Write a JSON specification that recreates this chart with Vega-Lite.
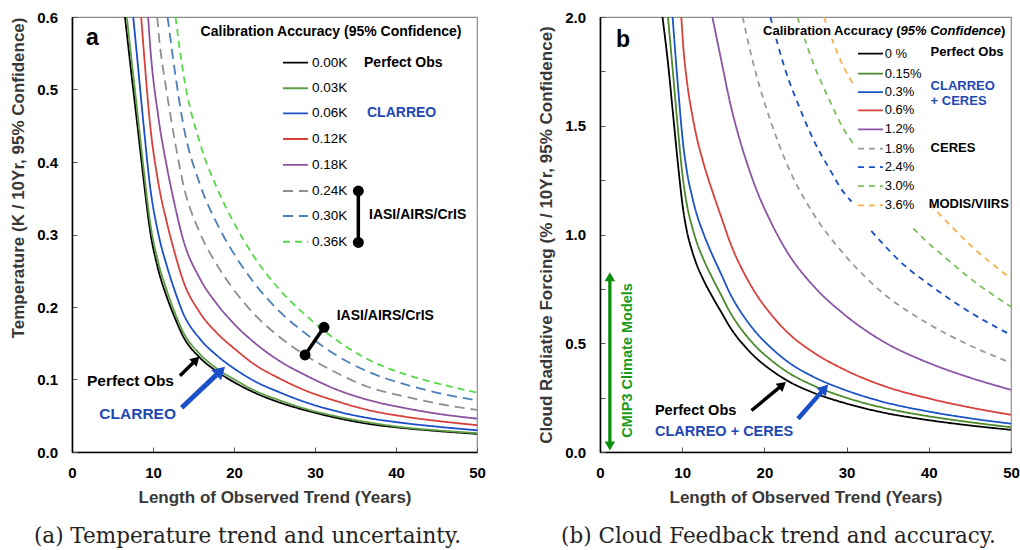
{
"$schema": "https://vega.github.io/schema/vega-lite/v6.json",
"background": "white",
"padding": {"left": 9, "top": 9, "right": 0, "bottom": 0},
"spacing": 51,
"config": {
  "font": "Liberation Sans",
  "view": {"stroke": "#8c8c8c", "strokeWidth": 1.2},
  "axis": {"labelFont": "Liberation Sans", "labelFontSize": 15, "labelFontWeight": "bold", "labelColor": "#000", "titleFont": "Liberation Sans", "titleFontSize": 17, "titleFontWeight": "bold", "titleColor": "#383838", "domainColor": "#000", "domainWidth": 1.6, "tickColor": "#555", "tickSize": -5, "tickWidth": 1, "labelPadding": 18, "grid": false, "titlePadding": 9, "labelFlush": false, "labelOverlap": false},
  "text": {"font": "Liberation Sans"}
},
"resolve": {"scale": {"x": "independent", "y": "independent", "color": "independent", "strokeDash": "independent", "shape": "independent"}},
"datasets": {
  "curvesA": [
    {"s":"0.00K","x":6.54,"y":0.6},{"s":"0.00K","x":7.3,"y":0.525},{"s":"0.00K","x":8.07,"y":0.451},{"s":"0.00K","x":8.85,"y":0.375},{"s":"0.00K","x":9.63,"y":0.306},{"s":"0.00K","x":10.66,"y":0.251},{"s":"0.00K","x":11.7,"y":0.214},{"s":"0.00K","x":12.7,"y":0.185},{"s":"0.00K","x":13.7,"y":0.16},{"s":"0.00K","x":15.8,"y":0.13},{"s":"0.00K","x":17.9,"y":0.111},{"s":"0.00K","x":19.9,"y":0.097},{"s":"0.00K","x":22.5,"y":0.082},{"s":"0.00K","x":25.7,"y":0.068},{"s":"0.00K","x":29,"y":0.057},{"s":"0.00K","x":32.7,"y":0.047},{"s":"0.00K","x":36.5,"y":0.039},{"s":"0.00K","x":40.9,"y":0.033},{"s":"0.00K","x":45,"y":0.029},{"s":"0.00K","x":50,"y":0.025},
    {"s":"0.03K","x":6.77,"y":0.6},{"s":"0.03K","x":7.3,"y":0.546},{"s":"0.03K","x":8.07,"y":0.469},{"s":"0.03K","x":8.85,"y":0.39},{"s":"0.03K","x":9.63,"y":0.318},{"s":"0.03K","x":10.66,"y":0.261},{"s":"0.03K","x":11.7,"y":0.223},{"s":"0.03K","x":12.7,"y":0.192},{"s":"0.03K","x":13.7,"y":0.166},{"s":"0.03K","x":15.8,"y":0.135},{"s":"0.03K","x":17.9,"y":0.115},{"s":"0.03K","x":19.9,"y":0.101},{"s":"0.03K","x":22.5,"y":0.085},{"s":"0.03K","x":25.7,"y":0.071},{"s":"0.03K","x":29,"y":0.059},{"s":"0.03K","x":32.7,"y":0.049},{"s":"0.03K","x":36.5,"y":0.041},{"s":"0.03K","x":40.9,"y":0.034},{"s":"0.03K","x":45,"y":0.03},{"s":"0.03K","x":50,"y":0.026},
    {"s":"0.06K","x":7.56,"y":0.6},{"s":"0.06K","x":8.07,"y":0.541},{"s":"0.06K","x":8.85,"y":0.45},{"s":"0.06K","x":9.63,"y":0.367},{"s":"0.06K","x":10.66,"y":0.301},{"s":"0.06K","x":11.7,"y":0.257},{"s":"0.06K","x":12.7,"y":0.222},{"s":"0.06K","x":13.7,"y":0.192},{"s":"0.06K","x":15.8,"y":0.156},{"s":"0.06K","x":17.9,"y":0.133},{"s":"0.06K","x":19.9,"y":0.116},{"s":"0.06K","x":22.5,"y":0.098},{"s":"0.06K","x":25.7,"y":0.082},{"s":"0.06K","x":29,"y":0.068},{"s":"0.06K","x":32.7,"y":0.056},{"s":"0.06K","x":36.5,"y":0.047},{"s":"0.06K","x":40.9,"y":0.04},{"s":"0.06K","x":45,"y":0.035},{"s":"0.06K","x":50,"y":0.03},
    {"s":"0.12K","x":8.54,"y":0.6},{"s":"0.12K","x":8.85,"y":0.555},{"s":"0.12K","x":9.63,"y":0.453},{"s":"0.12K","x":10.66,"y":0.371},{"s":"0.12K","x":11.7,"y":0.317},{"s":"0.12K","x":12.7,"y":0.274},{"s":"0.12K","x":13.7,"y":0.237},{"s":"0.12K","x":15.8,"y":0.192},{"s":"0.12K","x":17.9,"y":0.164},{"s":"0.12K","x":19.9,"y":0.144},{"s":"0.12K","x":22.5,"y":0.121},{"s":"0.12K","x":25.7,"y":0.101},{"s":"0.12K","x":29,"y":0.084},{"s":"0.12K","x":32.7,"y":0.07},{"s":"0.12K","x":36.5,"y":0.058},{"s":"0.12K","x":40.9,"y":0.049},{"s":"0.12K","x":45,"y":0.043},{"s":"0.12K","x":50,"y":0.037},
    {"s":"0.18K","x":9.4,"y":0.6},{"s":"0.18K","x":9.63,"y":0.563},{"s":"0.18K","x":10.66,"y":0.462},{"s":"0.18K","x":11.7,"y":0.394},{"s":"0.18K","x":12.7,"y":0.34},{"s":"0.18K","x":13.7,"y":0.294},{"s":"0.18K","x":15.8,"y":0.239},{"s":"0.18K","x":17.9,"y":0.204},{"s":"0.18K","x":19.9,"y":0.178},{"s":"0.18K","x":22.5,"y":0.151},{"s":"0.18K","x":25.7,"y":0.125},{"s":"0.18K","x":29,"y":0.105},{"s":"0.18K","x":32.7,"y":0.086},{"s":"0.18K","x":36.5,"y":0.072},{"s":"0.18K","x":40.9,"y":0.061},{"s":"0.18K","x":45,"y":0.053},{"s":"0.18K","x":50,"y":0.046},
    {"s":"0.24K","x":10.52,"y":0.6},{"s":"0.24K","x":10.66,"y":0.582},{"s":"0.24K","x":11.7,"y":0.496},{"s":"0.24K","x":12.7,"y":0.429},{"s":"0.24K","x":13.7,"y":0.371},{"s":"0.24K","x":15.8,"y":0.302},{"s":"0.24K","x":17.9,"y":0.258},{"s":"0.24K","x":19.9,"y":0.225},{"s":"0.24K","x":22.5,"y":0.19},{"s":"0.24K","x":25.7,"y":0.158},{"s":"0.24K","x":29,"y":0.132},{"s":"0.24K","x":32.7,"y":0.109},{"s":"0.24K","x":36.5,"y":0.09},{"s":"0.24K","x":40.9,"y":0.077},{"s":"0.24K","x":45,"y":0.067},{"s":"0.24K","x":50,"y":0.058},
    {"s":"0.30K","x":11.8,"y":0.6},{"s":"0.30K","x":12.7,"y":0.525},{"s":"0.30K","x":13.7,"y":0.454},{"s":"0.30K","x":15.8,"y":0.369},{"s":"0.30K","x":17.9,"y":0.315},{"s":"0.30K","x":19.9,"y":0.275},{"s":"0.30K","x":22.5,"y":0.233},{"s":"0.30K","x":25.7,"y":0.193},{"s":"0.30K","x":29,"y":0.162},{"s":"0.30K","x":32.7,"y":0.133},{"s":"0.30K","x":36.5,"y":0.111},{"s":"0.30K","x":40.9,"y":0.094},{"s":"0.30K","x":45,"y":0.082},{"s":"0.30K","x":50,"y":0.071},
    {"s":"0.36K","x":12.78,"y":0.6},{"s":"0.36K","x":13.7,"y":0.525},{"s":"0.36K","x":15.8,"y":0.426},{"s":"0.36K","x":17.9,"y":0.364},{"s":"0.36K","x":19.9,"y":0.318},{"s":"0.36K","x":22.5,"y":0.269},{"s":"0.36K","x":25.7,"y":0.223},{"s":"0.36K","x":29,"y":0.187},{"s":"0.36K","x":32.7,"y":0.154},{"s":"0.36K","x":36.5,"y":0.128},{"s":"0.36K","x":40.9,"y":0.108},{"s":"0.36K","x":45,"y":0.095},{"s":"0.36K","x":50,"y":0.082}
  ],
  "legA": [
    {"s":"0.00K","x":26.05,"x2":29.14,"y":0.537},{"s":"0.03K","x":26.05,"x2":29.14,"y":0.5017},{"s":"0.06K","x":26.05,"x2":29.14,"y":0.4671},{"s":"0.12K","x":26.05,"x2":29.14,"y":0.4317},{"s":"0.18K","x":26.05,"x2":29.14,"y":0.3959},{"s":"0.24K","x":26.05,"x2":29.14,"y":0.36},{"s":"0.30K","x":26.05,"x2":29.14,"y":0.3255},{"s":"0.36K","x":26.05,"x2":29.14,"y":0.29}
  ],
  "legLabA": [
    {"s":"0.00K","x":29.63,"y":0.537},{"s":"0.03K","x":29.63,"y":0.5017},{"s":"0.06K","x":29.63,"y":0.4671},{"s":"0.12K","x":29.63,"y":0.4317},{"s":"0.18K","x":29.63,"y":0.3959},{"s":"0.24K","x":29.63,"y":0.36},{"s":"0.30K","x":29.63,"y":0.3255},{"s":"0.36K","x":29.63,"y":0.29}
  ],
  "curvesB": [
    {"s":"0 %","g":1,"x":7.6,"y":2.0},{"s":"0 %","g":1,"x":8.3,"y":1.778},{"s":"0 %","g":1,"x":8.9,"y":1.548},{"s":"0 %","g":1,"x":9.5,"y":1.318},{"s":"0 %","g":1,"x":10.1,"y":1.119},{"s":"0 %","g":1,"x":10.6,"y":1.01},{"s":"0 %","g":1,"x":11.2,"y":0.925},{"s":"0 %","g":1,"x":11.7,"y":0.868},{"s":"0 %","g":1,"x":12.6,"y":0.79},{"s":"0 %","g":1,"x":13.8,"y":0.705},{"s":"0 %","g":1,"x":14.8,"y":0.64},{"s":"0 %","g":1,"x":15.8,"y":0.575},{"s":"0 %","g":1,"x":16.8,"y":0.522},{"s":"0 %","g":1,"x":17.8,"y":0.478},{"s":"0 %","g":1,"x":19.2,"y":0.425},{"s":"0 %","g":1,"x":20.7,"y":0.38},{"s":"0 %","g":1,"x":22.7,"y":0.33},{"s":"0 %","g":1,"x":26,"y":0.272},{"s":"0 %","g":1,"x":29.6,"y":0.227},{"s":"0 %","g":1,"x":34.5,"y":0.181},{"s":"0 %","g":1,"x":39.7,"y":0.148},{"s":"0 %","g":1,"x":45,"y":0.122},{"s":"0 %","g":1,"x":50,"y":0.102},
    {"s":"0.15%","g":1,"x":8.27,"y":2.0},{"s":"0.15%","g":1,"x":8.9,"y":1.734},{"s":"0.15%","g":1,"x":9.5,"y":1.476},{"s":"0.15%","g":1,"x":10.1,"y":1.253},{"s":"0.15%","g":1,"x":10.6,"y":1.131},{"s":"0.15%","g":1,"x":11.2,"y":1.036},{"s":"0.15%","g":1,"x":11.7,"y":0.972},{"s":"0.15%","g":1,"x":12.6,"y":0.885},{"s":"0.15%","g":1,"x":13.8,"y":0.79},{"s":"0.15%","g":1,"x":14.8,"y":0.717},{"s":"0.15%","g":1,"x":15.8,"y":0.644},{"s":"0.15%","g":1,"x":16.8,"y":0.585},{"s":"0.15%","g":1,"x":17.8,"y":0.535},{"s":"0.15%","g":1,"x":19.2,"y":0.476},{"s":"0.15%","g":1,"x":20.7,"y":0.426},{"s":"0.15%","g":1,"x":22.7,"y":0.37},{"s":"0.15%","g":1,"x":26,"y":0.305},{"s":"0.15%","g":1,"x":29.6,"y":0.254},{"s":"0.15%","g":1,"x":34.5,"y":0.203},{"s":"0.15%","g":1,"x":39.7,"y":0.166},{"s":"0.15%","g":1,"x":45,"y":0.137},{"s":"0.15%","g":1,"x":50,"y":0.114},
    {"s":"0.3%","g":1,"x":8.83,"y":2.0},{"s":"0.3%","g":1,"x":9.5,"y":1.674},{"s":"0.3%","g":1,"x":10.1,"y":1.421},{"s":"0.3%","g":1,"x":10.6,"y":1.283},{"s":"0.3%","g":1,"x":11.2,"y":1.175},{"s":"0.3%","g":1,"x":11.7,"y":1.102},{"s":"0.3%","g":1,"x":12.6,"y":1.003},{"s":"0.3%","g":1,"x":13.8,"y":0.895},{"s":"0.3%","g":1,"x":14.8,"y":0.813},{"s":"0.3%","g":1,"x":15.8,"y":0.73},{"s":"0.3%","g":1,"x":16.8,"y":0.663},{"s":"0.3%","g":1,"x":17.8,"y":0.607},{"s":"0.3%","g":1,"x":19.2,"y":0.54},{"s":"0.3%","g":1,"x":20.7,"y":0.483},{"s":"0.3%","g":1,"x":22.7,"y":0.419},{"s":"0.3%","g":1,"x":26,"y":0.345},{"s":"0.3%","g":1,"x":29.6,"y":0.288},{"s":"0.3%","g":1,"x":34.5,"y":0.23},{"s":"0.3%","g":1,"x":39.7,"y":0.188},{"s":"0.3%","g":1,"x":45,"y":0.155},{"s":"0.3%","g":1,"x":50,"y":0.13},
    {"s":"0.6%","g":1,"x":9.89,"y":2.0},{"s":"0.6%","g":1,"x":10.1,"y":1.88},{"s":"0.6%","g":1,"x":10.6,"y":1.697},{"s":"0.6%","g":1,"x":11.2,"y":1.554},{"s":"0.6%","g":1,"x":11.7,"y":1.458},{"s":"0.6%","g":1,"x":12.6,"y":1.327},{"s":"0.6%","g":1,"x":13.8,"y":1.184},{"s":"0.6%","g":1,"x":14.8,"y":1.075},{"s":"0.6%","g":1,"x":15.8,"y":0.966},{"s":"0.6%","g":1,"x":16.8,"y":0.877},{"s":"0.6%","g":1,"x":17.8,"y":0.803},{"s":"0.6%","g":1,"x":19.2,"y":0.714},{"s":"0.6%","g":1,"x":20.7,"y":0.638},{"s":"0.6%","g":1,"x":22.7,"y":0.554},{"s":"0.6%","g":1,"x":26,"y":0.457},{"s":"0.6%","g":1,"x":29.6,"y":0.381},{"s":"0.6%","g":1,"x":34.5,"y":0.304},{"s":"0.6%","g":1,"x":39.7,"y":0.249},{"s":"0.6%","g":1,"x":45,"y":0.205},{"s":"0.6%","g":1,"x":50,"y":0.171},
    {"s":"1.2%","g":1,"x":13.67,"y":2.0},{"s":"1.2%","g":1,"x":14.8,"y":1.792},{"s":"1.2%","g":1,"x":15.8,"y":1.61},{"s":"1.2%","g":1,"x":16.8,"y":1.462},{"s":"1.2%","g":1,"x":17.8,"y":1.338},{"s":"1.2%","g":1,"x":19.2,"y":1.19},{"s":"1.2%","g":1,"x":20.7,"y":1.064},{"s":"1.2%","g":1,"x":22.7,"y":0.924},{"s":"1.2%","g":1,"x":26,"y":0.762},{"s":"1.2%","g":1,"x":29.6,"y":0.636},{"s":"1.2%","g":1,"x":34.5,"y":0.507},{"s":"1.2%","g":1,"x":39.7,"y":0.414},{"s":"1.2%","g":1,"x":45,"y":0.342},{"s":"1.2%","g":1,"x":50,"y":0.286},
    {"s":"1.8%","g":1,"x":17.36,"y":2.0},{"s":"1.8%","g":1,"x":17.8,"y":1.922},{"s":"1.8%","g":1,"x":19.2,"y":1.709},{"s":"1.8%","g":1,"x":20.7,"y":1.528},{"s":"1.8%","g":1,"x":22.7,"y":1.327},{"s":"1.8%","g":1,"x":26,"y":1.093},{"s":"1.8%","g":1,"x":29.6,"y":0.913},{"s":"1.8%","g":1,"x":34.5,"y":0.728},{"s":"1.8%","g":1,"x":39.7,"y":0.595},{"s":"1.8%","g":1,"x":45,"y":0.49},{"s":"1.8%","g":1,"x":50,"y":0.41},
    {"s":"2.4%","g":1,"x":20.72,"y":2.0},{"s":"2.4%","g":1,"x":22.7,"y":1.739},{"s":"2.4%","g":1,"x":24.3,"y":1.581},{"s":"2.4%","g":1,"x":26,"y":1.433},{"s":"2.4%","g":1,"x":28,"y":1.296},{"s":"2.4%","g":1,"x":29.6,"y":1.196},{"s":"2.4%","g":1,"x":30.6,"y":1.151},
    {"s":"2.4%","g":2,"x":33.0,"y":1.017},{"s":"2.4%","g":2,"x":34.5,"y":0.954},{"s":"2.4%","g":2,"x":37,"y":0.859},{"s":"2.4%","g":2,"x":39.7,"y":0.78},{"s":"2.4%","g":2,"x":45,"y":0.643},{"s":"2.4%","g":2,"x":50,"y":0.538},
    {"s":"3.0%","g":1,"x":24.02,"y":2.0},{"s":"3.0%","g":1,"x":26,"y":1.782},{"s":"3.0%","g":1,"x":28,"y":1.611},{"s":"3.0%","g":1,"x":29.6,"y":1.487},{"s":"3.0%","g":1,"x":31.0,"y":1.408},
    {"s":"3.0%","g":2,"x":38.1,"y":1.028},{"s":"3.0%","g":2,"x":39.7,"y":0.969},{"s":"3.0%","g":2,"x":42.5,"y":0.878},{"s":"3.0%","g":2,"x":45,"y":0.799},{"s":"3.0%","g":2,"x":50,"y":0.668},
    {"s":"3.6%","g":1,"x":27.23,"y":2.0},{"s":"3.6%","g":1,"x":28,"y":1.921},{"s":"3.6%","g":1,"x":29.6,"y":1.773},{"s":"3.6%","g":1,"x":31.0,"y":1.679},
    {"s":"3.6%","g":2,"x":40.1,"y":1.14},{"s":"3.6%","g":2,"x":42.5,"y":1.047},{"s":"3.6%","g":2,"x":45,"y":0.953},{"s":"3.6%","g":2,"x":50,"y":0.797}
  ],
  "legB": [
    {"s":"0 %","x":31.38,"x2":34.42,"y":1.8317},{"s":"0.15%","x":31.38,"x2":34.42,"y":1.7396},{"s":"0.3%","x":31.38,"x2":34.42,"y":1.655},{"s":"0.6%","x":31.38,"x2":34.42,"y":1.5708},{"s":"1.2%","x":31.38,"x2":34.42,"y":1.4834},{"s":"1.8%","x":31.38,"x2":34.42,"y":1.3947},{"s":"2.4%","x":31.38,"x2":34.42,"y":1.31},{"s":"3.0%","x":31.38,"x2":34.42,"y":1.2226},{"s":"3.6%","x":31.38,"x2":34.42,"y":1.1338}
  ],
  "legLabB": [
    {"s":"0 %","x":34.63,"y":1.8317},{"s":"0.15%","x":34.63,"y":1.7396},{"s":"0.3%","x":34.63,"y":1.655},{"s":"0.6%","x":34.63,"y":1.5708},{"s":"1.2%","x":34.63,"y":1.4834},{"s":"1.8%","x":34.63,"y":1.3947},{"s":"2.4%","x":34.63,"y":1.31},{"s":"3.0%","x":34.63,"y":1.2226},{"s":"3.6%","x":34.63,"y":1.1338}
  ]
},
"hconcat": [
{
  "width": 405, "height": 435,
  "title": {"text": "(a) Temperature trend and uncertainty.", "orient": "bottom", "anchor": "middle", "offset": 21, "dx": -27, "font": "DejaVu Serif", "fontSize": 21.5, "fontWeight": "normal", "color": "#222"},
  "encoding": {
    "x": {"field": "x", "type": "quantitative", "scale": {"domain": [0, 50], "nice": false, "zero": false}, "axis": {"title": "Length of Observed Trend (Years)", "values": [0, 10, 20, 30, 40, 50]}},
    "y": {"field": "y", "type": "quantitative", "scale": {"domain": [0, 0.6], "nice": false}, "axis": {"title": "Temperature (K / 10Yr, 95% Confidence)", "values": [0, 0.1, 0.2, 0.3, 0.4, 0.5, 0.6], "format": ".1f", "titleAnchor": "end", "labelPadding": 19.5}}
  },
  "layer": [
    {"data": {"name": "curvesA"}, "mark": {"type": "line", "strokeWidth": 1.8, "interpolate": "monotone", "clip": true},
     "encoding": {
       "color": {"field": "s", "type": "nominal", "scale": {"domain": ["0.00K","0.03K","0.06K","0.12K","0.18K","0.24K","0.30K","0.36K"], "range": ["#000000","#5e9f45","#1a4fc8","#d8403c","#8b52a1","#8f8f8f","#4b7fb8","#55d946"]}, "legend": null},
       "strokeDash": {"field": "s", "type": "nominal", "scale": {"domain": ["0.00K","0.03K","0.06K","0.12K","0.18K","0.24K","0.30K","0.36K"], "range": [[1,0],[1,0],[1,0],[1,0],[1,0],[10,6],[10,6],[7,5]]}, "legend": null}
     }},
    {"data": {"name": "legA"}, "mark": {"type": "rule", "strokeWidth": 1.8},
     "encoding": {
       "x2": {"field": "x2"},
       "color": {"field": "s", "type": "nominal", "legend": null},
       "strokeDash": {"field": "s", "type": "nominal", "legend": null}
     }},
    {"data": {"name": "legLabA"}, "mark": {"type": "text", "align": "left", "baseline": "middle", "fontSize": 13.5, "color": "#000"},
     "encoding": {"text": {"field": "s"}}},
    {"data": {"values": [{"x": 31.98, "y": 0.579, "label": "Calibration Accuracy (95% Confidence)"}]}, "mark": {"type": "text", "align": "center", "baseline": "middle", "fontSize": 14, "fontWeight": "bold", "color": "#000"},
     "encoding": {"text": {"field": "label"}}},
    {"data": {"values": [{"x": 36.05, "y": 0.5366, "label": "Perfect Obs"}, {"x": 36.67, "y": 0.327, "label": "IASI/AIRS/CrIS"}, {"x": 32.68, "y": 0.188, "label": "IASI/AIRS/CrIS"}]}, "mark": {"type": "text", "align": "left", "baseline": "middle", "fontSize": 14, "fontWeight": "bold", "color": "#000"},
     "encoding": {"text": {"field": "label"}}},
    {"data": {"values": [{"x": 36.42, "y": 0.467, "label": "CLARREO"}]}, "mark": {"type": "text", "align": "left", "baseline": "middle", "fontSize": 14, "fontWeight": "bold", "color": "#1e48b4"},
     "encoding": {"text": {"field": "label"}}},
    {"data": {"values": [{"x": 1.73, "y": 0.571, "label": "a"}]}, "mark": {"type": "text", "align": "left", "baseline": "middle", "fontSize": 23, "fontWeight": "bold", "color": "#000"},
     "encoding": {"text": {"field": "label"}}},
    {"data": {"values": [{"x": 12.59, "y": 0.0983, "label": "Perfect Obs"}]}, "mark": {"type": "text", "align": "right", "baseline": "middle", "fontSize": 15.5, "fontWeight": "bold", "color": "#000"},
     "encoding": {"text": {"field": "label"}}},
    {"data": {"values": [{"x": 12.84, "y": 0.0524, "label": "CLARREO"}]}, "mark": {"type": "text", "align": "right", "baseline": "middle", "fontSize": 15.5, "fontWeight": "bold", "color": "#1e48b4"},
     "encoding": {"text": {"field": "label"}}},
    {"data": {"values": [{"x": 35.35, "y": 0.36, "x2": 35.35, "y2": 0.289}, {"x": 28.77, "y": 0.1338, "x2": 31.11, "y2": 0.172}]}, "mark": {"type": "rule", "strokeWidth": 3.5, "color": "#000"},
     "encoding": {"x2": {"field": "x2"}, "y2": {"field": "y2"}}},
    {"data": {"values": [{"x": 35.35, "y": 0.36}, {"x": 35.35, "y": 0.289}, {"x": 28.77, "y": 0.1338}, {"x": 31.11, "y": 0.172}]}, "mark": {"type": "point", "shape": "circle", "filled": true, "size": 120, "opacity": 1, "color": "#000"}},
    {"data": {"values": [{"x": 13.33, "y": 0.1052, "x2": 15.33, "y2": 0.1273}]}, "mark": {"type": "rule", "strokeWidth": 3.5, "color": "#000"},
     "encoding": {"x2": {"field": "x2"}, "y2": {"field": "y2"}}},
    {"data": {"values": [{"x": 15.33, "y": 0.1273}]}, "mark": {"type": "point", "shape": "triangle-up", "filled": true, "size": 110, "opacity": 1, "angle": 45.4, "color": "#000"}},
    {"data": {"values": [{"x": 13.54, "y": 0.0611, "x2": 18.35, "y2": 0.1119}]}, "mark": {"type": "rule", "strokeWidth": 5, "color": "#1a4fc8"},
     "encoding": {"x2": {"field": "x2"}, "y2": {"field": "y2"}}},
    {"data": {"values": [{"x": 18.35, "y": 0.1119}]}, "mark": {"type": "point", "shape": "triangle-up", "filled": true, "size": 200, "opacity": 1, "angle": 46.6, "color": "#1a4fc8"}}
  ]
},
{
  "width": 411, "height": 435,
  "title": {"text": "(b) Cloud Feedback trend and accuracy.", "orient": "bottom", "anchor": "middle", "offset": 21, "dx": -27, "font": "DejaVu Serif", "fontSize": 21.5, "fontWeight": "normal", "color": "#222"},
  "encoding": {
    "x": {"field": "x", "type": "quantitative", "scale": {"domain": [0, 50], "nice": false, "zero": false}, "axis": {"title": "Length of Observed Trend (Years)", "values": [0, 10, 20, 30, 40, 50]}},
    "y": {"field": "y", "type": "quantitative", "scale": {"domain": [0, 2], "nice": false}, "axis": {"title": "Cloud Radiative Forcing (% / 10Yr, 95% Confidence)", "values": [0, 0.25, 0.5, 0.75, 1, 1.25, 1.5, 1.75, 2], "labelExpr": "datum.value % 0.5 == 0 ? format(datum.value, '.1f') : ''", "labelPadding": 19.5}}
  },
  "layer": [
    {"data": {"name": "curvesB"}, "mark": {"type": "line", "strokeWidth": 1.8, "interpolate": "monotone", "clip": true},
     "encoding": {
       "detail": {"field": "g", "type": "nominal"},
       "color": {"field": "s", "type": "nominal", "scale": {"domain": ["0 %","0.15%","0.3%","0.6%","1.2%","1.8%","2.4%","3.0%","3.6%"], "range": ["#000000","#4d8a2a","#1a55c8","#d9403a","#8b55a6","#9a9a9a","#1a4fc0","#7cbf5c","#f5b24c"]}, "legend": null},
       "strokeDash": {"field": "s", "type": "nominal", "scale": {"domain": ["0 %","0.15%","0.3%","0.6%","1.2%","1.8%","2.4%","3.0%","3.6%"], "range": [[1,0],[1,0],[1,0],[1,0],[1,0],[6,5],[6,5],[6,5],[6,5]]}, "legend": null}
     }},
    {"data": {"values": [{"x": 19.4, "x2": 49.6, "y": 1.9, "y2": 1.97}]}, "mark": {"type": "rect", "color": "#ffffff", "opacity": 1},
     "encoding": {"x2": {"field": "x2"}, "y2": {"field": "y2"}}},
    {"data": {"name": "legB"}, "mark": {"type": "rule", "strokeWidth": 1.8},
     "encoding": {
       "x2": {"field": "x2"},
       "color": {"field": "s", "type": "nominal", "legend": null},
       "strokeDash": {"field": "s", "type": "nominal", "legend": null}
     }},
    {"data": {"name": "legLabB"}, "mark": {"type": "text", "align": "left", "baseline": "middle", "fontSize": 13, "color": "#000"},
     "encoding": {"text": {"field": "s"}}},
    {"data": {"values": [{"x": 36.57, "y": 1.934, "label": "Calibration Accuracy ("}]}, "mark": {"type": "text", "align": "right", "baseline": "middle", "fontSize": 13, "fontWeight": "bold", "color": "#000"},
     "encoding": {"text": {"field": "label"}}},
    {"data": {"values": [{"x": 36.57, "y": 1.934, "label": "95% Confidence"}]}, "mark": {"type": "text", "align": "left", "baseline": "middle", "fontSize": 13, "fontWeight": "bold", "fontStyle": "italic", "color": "#000"},
     "encoding": {"text": {"field": "label"}}},
    {"data": {"values": [{"x": 48.77, "y": 1.934, "label": ")"}]}, "mark": {"type": "text", "align": "left", "baseline": "middle", "fontSize": 13, "fontWeight": "bold", "color": "#000"},
     "encoding": {"text": {"field": "label"}}},
    {"data": {"values": [{"x": 40.22, "y": 1.839, "label": "Perfect Obs"}, {"x": 40.22, "y": 1.397, "label": "CERES"}, {"x": 39.98, "y": 1.138, "label": "MODIS/VIIRS"}]}, "mark": {"type": "text", "align": "left", "baseline": "middle", "fontSize": 13, "fontWeight": "bold", "color": "#000"},
     "encoding": {"text": {"field": "label"}}},
    {"data": {"values": [{"x": 40.22, "y": 1.6826, "label": "CLARREO"}, {"x": 40.22, "y": 1.612, "label": "+ CERES"}]}, "mark": {"type": "text", "align": "left", "baseline": "middle", "fontSize": 13, "fontWeight": "bold", "color": "#1e48b4"},
     "encoding": {"text": {"field": "label"}}},
    {"data": {"values": [{"x": 1.94, "y": 1.893, "label": "b"}]}, "mark": {"type": "text", "align": "left", "baseline": "middle", "fontSize": 23, "fontWeight": "bold", "color": "#000"},
     "encoding": {"text": {"field": "label"}}},
    {"data": {"values": [{"x": 6.68, "y": 0.1863, "label": "Perfect Obs"}]}, "mark": {"type": "text", "align": "left", "baseline": "middle", "fontSize": 14.5, "fontWeight": "bold", "color": "#000"},
     "encoding": {"text": {"field": "label"}}},
    {"data": {"values": [{"x": 6.68, "y": 0.0911, "label": "CLARREO + CERES"}]}, "mark": {"type": "text", "align": "left", "baseline": "middle", "fontSize": 14.5, "fontWeight": "bold", "color": "#1e48b4"},
     "encoding": {"text": {"field": "label"}}},
    {"data": {"values": [{"x": 18.43, "y": 0.1909, "x2": 22.2, "y2": 0.3082}]}, "mark": {"type": "rule", "strokeWidth": 3.5, "color": "#000"},
     "encoding": {"x2": {"field": "x2"}, "y2": {"field": "y2"}}},
    {"data": {"values": [{"x": 22.2, "y": 0.3082}]}, "mark": {"type": "point", "shape": "triangle-up", "filled": true, "size": 110, "opacity": 1, "angle": 50.5, "color": "#000"}},
    {"data": {"values": [{"x": 24.09, "y": 0.1527, "x2": 27.33, "y2": 0.2925}]}, "mark": {"type": "rule", "strokeWidth": 4.5, "color": "#1a4fc8"},
     "encoding": {"x2": {"field": "x2"}, "y2": {"field": "y2"}}},
    {"data": {"values": [{"x": 27.33, "y": 0.2925}]}, "mark": {"type": "point", "shape": "triangle-up", "filled": true, "size": 150, "opacity": 1, "angle": 41.2, "color": "#1a4fc8"}},
    {"data": {"values": [{"x": 1.2, "y": 0.03, "x2": 1.2, "y2": 0.8}]}, "mark": {"type": "rule", "strokeWidth": 3.3, "color": "#0b8f0b"},
     "encoding": {"x2": {"field": "x2"}, "y2": {"field": "y2"}}},
    {"data": {"values": [{"x": 1.2, "y": 0.806, "d": "up"}, {"x": 1.2, "y": 0.0276, "d": "down"}]}, "mark": {"type": "point", "filled": true, "size": 110, "opacity": 1, "color": "#0b8f0b"},
     "encoding": {"shape": {"field": "d", "type": "nominal", "scale": {"domain": ["up", "down"], "range": ["triangle-up", "triangle-down"]}, "legend": null}}},
    {"data": {"values": [{"x": 3.37, "y": 0.421, "label": "CMIP3 Climate Models"}]}, "mark": {"type": "text", "align": "center", "baseline": "middle", "angle": 270, "fontSize": 14.5, "fontWeight": "bold", "color": "#1a9a1a"},
     "encoding": {"text": {"field": "label"}}}
  ]
}
]
}
